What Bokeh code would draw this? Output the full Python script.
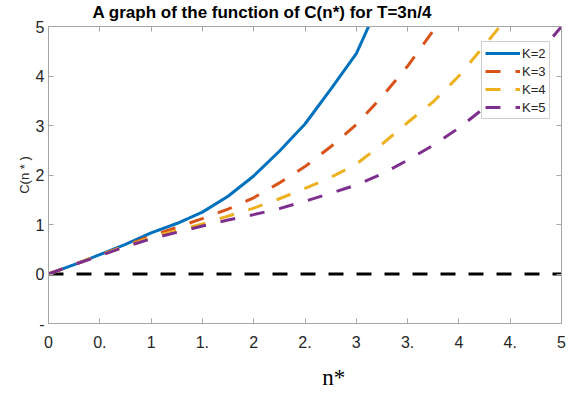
from bokeh.plotting import figure
from bokeh.models import (Range1d, FixedTicker, LinearAxis, Legend, LegendItem, Title)
from bokeh.embed import file_html
from bokeh.resources import INLINE

# ---- data ----
n_k2 = [0, 0.25, 0.5, 0.75, 1.0, 1.25, 1.5, 1.75, 2.0, 2.25, 2.5, 2.75, 3.0, 3.12]
c_k2 = [0, 0.19, 0.39, 0.6, 0.83, 1.02, 1.25, 1.57, 1.98, 2.48, 3.03, 3.73, 4.45, 5.0]

n_k3 = [0, 0.25, 0.5, 0.75, 1.0, 1.25, 1.5, 1.75, 2.0, 2.25, 2.5, 2.75, 3.0, 3.25, 3.5, 3.78]
c_k3 = [0, 0.19, 0.38, 0.57, 0.77, 0.94, 1.12, 1.31, 1.54, 1.84, 2.17, 2.57, 3.02, 3.58, 4.2, 5.0]

n_k4 = [0, 0.25, 0.5, 0.75, 1.0, 1.25, 1.5, 1.75, 2.0, 2.25, 2.5, 2.75, 3.0, 3.25, 3.5, 3.75, 4.0, 4.25, 4.4]
c_k4 = [0, 0.19, 0.38, 0.56, 0.74, 0.88, 1.01, 1.17, 1.33, 1.52, 1.73, 1.95, 2.22, 2.62, 3.06, 3.48, 4.0, 4.62, 5.0]

n_k5 = [0, 0.25, 0.5, 0.75, 1.0, 1.25, 1.5, 1.75, 2.0, 2.25, 2.5, 2.75, 3.0, 3.25, 3.5, 3.75, 4.0, 4.25, 4.5, 4.75, 5.0]
c_k5 = [0, 0.19, 0.37, 0.55, 0.71, 0.84, 0.97, 1.09, 1.2, 1.32, 1.47, 1.63, 1.8, 2.02, 2.3, 2.6, 2.95, 3.36, 3.85, 4.38, 5.0]

zero_n = [0, 5]
zero_c = [0, 0]

series_labels = ["K=2", "K=3", "K=4", "K=5"]
x_ticks = [0, 0.5, 1, 1.5, 2, 2.5, 3, 3.5, 4, 4.5, 5]
x_tick_labels = ["0", "0.", "1", "1.", "2", "2.", "3", "3.", "4", "4.", "5"]
y_ticks = [-1, 0, 1, 2, 3, 4, 5]
y_tick_labels = ["-", "0", "1", "2", "3", "4", "5"]

colors = ["#0072BD", "#D95319", "#EDB120", "#7E2F8E"]

# ---- layout (picture px) ----
W, H = 568, 394
FL, FR, FT, FB = 48, 561, 25, 323  # frame edges

p = figure(width=W, height=H, output_backend="svg", toolbar_location=None,
           x_range=Range1d(0, 5), y_range=Range1d(-1, 5),
           min_border_left=FL, min_border_right=W - FR,
           min_border_top=FT, min_border_bottom=H - FB,
           x_axis_location=None, y_axis_location=None)
p.grid.visible = False
p.outline_line_color = "#a6a6a6"
p.background_fill_color = "white"
p.border_fill_color = "white"

axis_col = "#a6a6a6"
lab_col = "#262626"

def mk_axis(ticks, overrides, show_labels, standoff):
    ax = LinearAxis(ticker=FixedTicker(ticks=ticks))
    ax.major_label_overrides = overrides
    ax.axis_line_color = axis_col
    ax.major_tick_line_color = axis_col
    ax.major_tick_in = 5
    ax.major_tick_out = 0
    ax.minor_tick_line_color = None
    ax.major_label_standoff = standoff
    ax.major_label_text_font = "Liberation Sans"
    ax.major_label_text_font_size = "16px" if show_labels else "0px"
    ax.major_label_text_color = lab_col
    return ax

xo = {t: l for t, l in zip(x_ticks, x_tick_labels)}
yo = {t: l for t, l in zip(y_ticks, y_tick_labels)}
xb = mk_axis(x_ticks, xo, True, 12)
xb.axis_label = "\u00a0" * 10 + "n*"
xb.axis_label_text_font = "Liberation Serif"
xb.axis_label_text_font_size = "23px"
xb.axis_label_text_font_style = "normal"
xb.axis_label_text_color = "black"
xb.axis_label_standoff = 14
yl = mk_axis(y_ticks, yo, True, 4)
yl.axis_label = "C(n * )"
yl.axis_label_text_font = "Liberation Sans"
yl.axis_label_text_font_size = "13px"
yl.axis_label_text_font_style = "normal"
yl.axis_label_text_color = lab_col
yl.axis_label_standoff = 1
p.add_layout(xb, "below")
p.add_layout(yl, "left")
p.add_layout(mk_axis(x_ticks, {t: "" for t in x_ticks}, False, 0), "above")
p.add_layout(mk_axis(y_ticks, {t: "" for t in y_ticks}, False, 0), "right")

# title
p.add_layout(Title(text="A graph of the function of C(n*) for T=3n/4", align="left",
                   offset=44, standoff=5, vertical_align="top", text_font="Liberation Sans",
                   text_font_style="bold", text_font_size="17px", text_color="black"), "above")

# zero line
p.line(zero_n, zero_c, line_color="black", line_width=3, line_dash="15 13")

r2 = p.line(n_k2, c_k2, line_color=colors[0], line_width=3)
r3 = p.line(n_k3, c_k3, line_color=colors[1], line_width=3, line_dash="15 15")
r4 = p.line(n_k4, c_k4, line_color=colors[2], line_width=3, line_dash="15 15")
r5 = p.line(n_k5, c_k5, line_color=colors[3], line_width=3, line_dash="15 15")

legend = Legend(items=[LegendItem(label=series_labels[i], renderers=[r])
                       for i, r in enumerate([r2, r3, r4, r5])],
                location=(481 - FL, FB - 119))
legend.label_text_font = "Liberation Sans"
legend.label_text_font_size = "13px"
legend.label_text_color = lab_col
legend.glyph_width = 35
legend.glyph_height = 16
legend.label_height = 16
legend.label_standoff = 2
legend.spacing = 2
legend.padding = 3
legend.margin = 0
legend.border_line_color = "#a0a0a0"
legend.border_line_width = 1
legend.background_fill_alpha = 1
p.add_layout(legend)

open("out.html", "w").write(file_html(p, INLINE))
